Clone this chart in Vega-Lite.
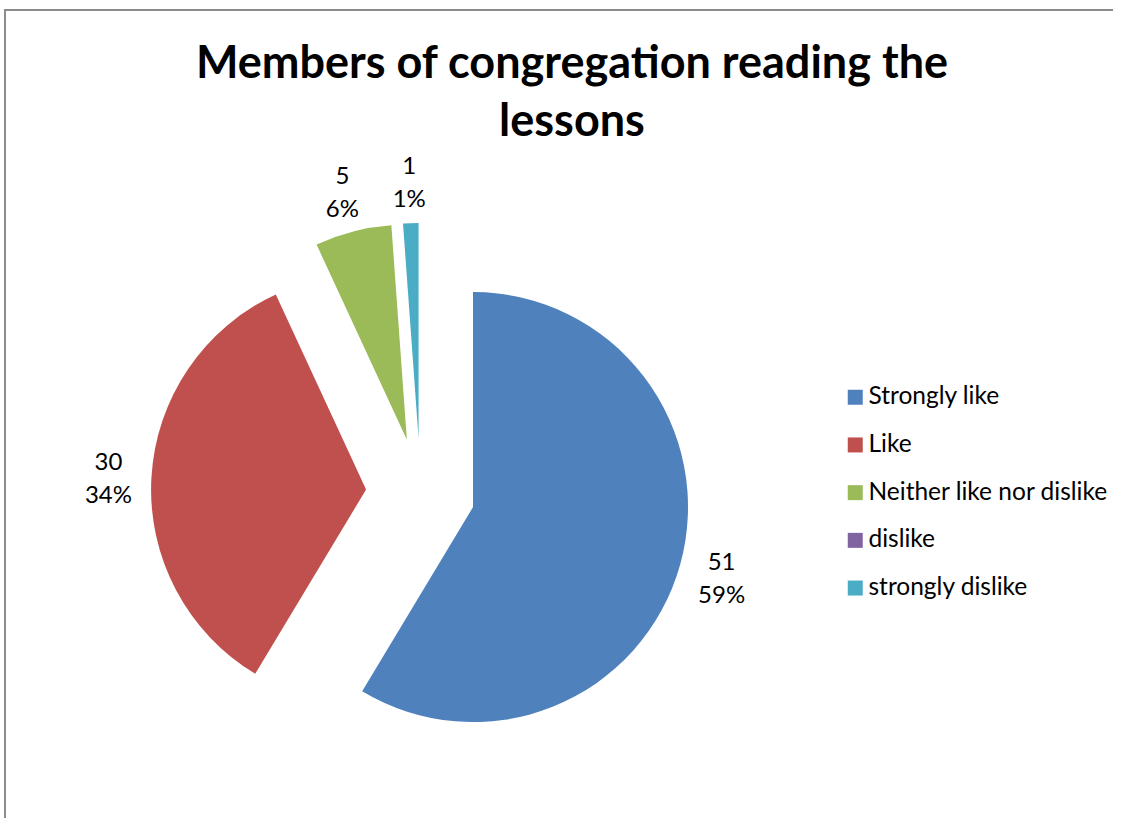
{
  "$schema": "https://vega.github.io/schema/vega-lite/v6.json",
  "width": 1108,
  "height": 808,
  "autosize": "none",
  "padding": {"left": 5, "top": 10, "right": 0, "bottom": 0},
  "background": "white",
  "config": {"view": {"stroke": "#8c8c8c", "strokeWidth": 2, "strokeDash": [1109, 1915, 809]}, "font": "Lato"},
  "title": {
    "text": ["Members of congregation reading the", "lessons"],
    "fontSize": 45,
    "fontWeight": "bold",
    "font": "Lato",
    "color": "black",
    "anchor": "middle",
    "frame": "group",
    "offset": -135,
    "dx": 13,
    "lineHeight": 58
  },
  "data": {
    "values": [
      {"response": "Strongly like", "count": 51},
      {"response": "Like", "count": 30},
      {"response": "Neither like nor dislike", "count": 5},
      {"response": "dislike", "count": 0},
      {"response": "strongly dislike", "count": 1}
    ]
  },
  "transform": [
    {"window": [{"op": "row_number", "as": "idx"}]},
    {"joinaggregate": [{"op": "sum", "field": "count", "as": "total"}]},
    {"stack": "count", "groupby": [], "sort": [{"field": "idx", "order": "ascending"}], "as": ["s0", "s1"]},
    {"calculate": "2*PI*datum.s0/datum.total", "as": "t0"},
    {"calculate": "2*PI*datum.s1/datum.total", "as": "t1"},
    {"calculate": "(datum.t0+datum.t1)/2", "as": "tm"},
    {"calculate": "sin(datum.tm)", "as": "ex"},
    {"calculate": "-cos(datum.tm)", "as": "ey"},
    {"calculate": "format(datum.count,'d') + '\\n' + format(datum.count/datum.total,'.0%')", "as": "label"}
  ],
  "layer": [
    {
      "mark": {"type": "arc", "radius": 215},
      "encoding": {
        "x": {"field": "ex", "type": "quantitative", "scale": {"domain": [-1, 1], "range": [361, 470]}, "axis": null},
        "y": {"field": "ey", "type": "quantitative", "scale": {"domain": [-1, 1], "range": [428, 537]}, "axis": null},
        "theta": {"field": "t0", "type": "quantitative", "scale": null, "stack": null},
        "theta2": {"field": "t1"},
        "color": {
          "field": "response",
          "type": "nominal",
          "scale": {
            "domain": ["Strongly like", "Like", "Neither like nor dislike", "dislike", "strongly dislike"],
            "range": ["#4F81BD", "#C0504D", "#9BBB59", "#8064A2", "#4BACC6"]
          },
          "legend": {
            "title": null,
            "orient": "none",
            "legendX": 838,
            "legendY": 375,
            "symbolType": "square",
            "symbolSize": 225,
            "symbolStrokeWidth": 0,
            "labelFontSize": 24.5,
            "labelFont": "Lato",
            "labelColor": "black",
            "labelOffset": 1,
            "rowPadding": 22.7,
            "labelLimit": 400
          }
        }
      }
    },
    {
      "transform": [{"filter": "datum.count > 0"}],
      "mark": {"type": "text", "radius": 258, "dy": -13, "fontSize": 24, "lineBreak": "\n", "lineHeight": 33, "align": "center", "baseline": "middle", "color": "black", "font": "Lato"},
      "encoding": {
        "x": {"field": "ex", "type": "quantitative", "scale": {"domain": [-1, 1], "range": [361, 470]}, "axis": null},
        "y": {"field": "ey", "type": "quantitative", "scale": {"domain": [-1, 1], "range": [428, 537]}, "axis": null},
        "theta": {"field": "tm", "type": "quantitative", "scale": null, "stack": null},
        "text": {"field": "label", "type": "nominal"}
      }
    }
  ]
}
